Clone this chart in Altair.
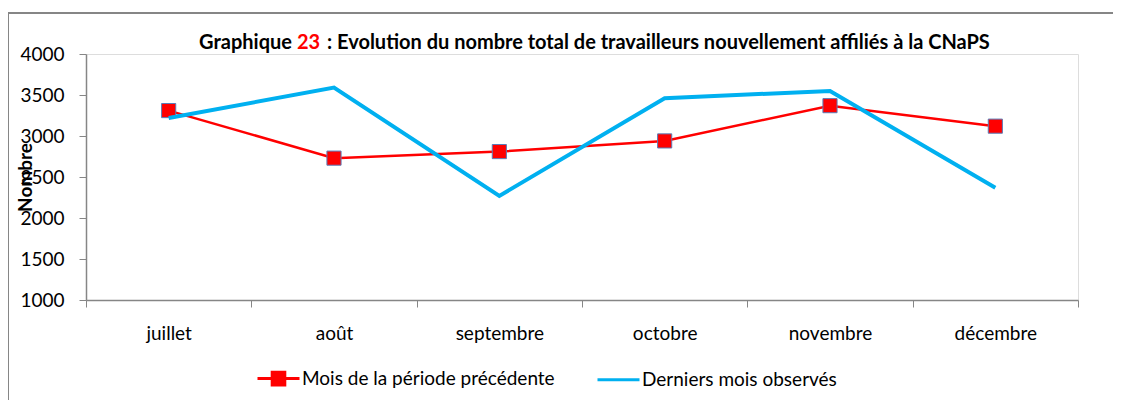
import altair as alt
import pandas as pd

months = ["juillet", "août", "septembre", "octobre", "novembre", "décembre"]
prev_vals = [3310, 2730, 2810, 2940, 3370, 3120]
last_vals = [3220, 3590, 2270, 3460, 3550, 2370]
series_names = ["Mois de la période précédente", "Derniers mois observés"]
y_ticks = [1000, 1500, 2000, 2500, 3000, 3500, 4000]

title_left = "Graphique"
title_num = "23"
title_right = ": Evolution du nombre total de travailleurs nouvellement affiliés à la CNaPS"

rows = []
for m, v in zip(months, prev_vals):
    rows.append({"mois": m, "valeur": v, "serie": series_names[0]})
for m, v in zip(months, last_vals):
    rows.append({"mois": m, "valeur": v, "serie": series_names[1]})
df = pd.DataFrame(rows)

FONT = "Lato"
RED = "#FF0000"
BLUE = "#00B0F0"
GRAY = "#868686"
FS = 19

W, H = 992, 246

x_enc = alt.X("mois:N", sort=months, title=None,
              scale=alt.Scale(domain=months, paddingInner=0, paddingOuter=0),
              axis=alt.Axis(labelAngle=0, tickBand="extent", tickSize=7,
                            domainColor=GRAY, tickColor=GRAY, domainWidth=1.5,
                            labelPadding=17, labelFontSize=FS, labelFont=FONT,
                            labelColor="#000000"))
y_enc = alt.Y("valeur:Q", title="Nombre",
              scale=alt.Scale(domain=[1000, 4000], nice=False, zero=False),
              axis=alt.Axis(values=y_ticks, format="d", grid=False, tickSize=7,
                            domainColor=GRAY, tickColor=GRAY, domainWidth=1.5,
                            labelPadding=15, labelFontSize=FS, labelFont=FONT,
                            labelColor="#000000",
                            titleFont=FONT, titleFontSize=FS, titleFontWeight="bold",
                            titleAngle=-90, titleX=-61, titleY=H / 2,
                            titleAlign="center", titleBaseline="middle",
                            titleColor="#000000"))

color_scale = alt.Scale(domain=series_names, range=[RED, BLUE])

base = alt.Chart(df)

red_line = base.transform_filter(alt.datum.serie == series_names[0]).mark_line(
    color=RED, strokeWidth=2.5).encode(x=x_enc, y=y_enc)

red_pts = base.transform_filter(alt.datum.serie == series_names[0]).mark_point(
    shape="square", filled=True, fill=RED, stroke="#5B7DB8", strokeWidth=1,
    size=200, opacity=1).encode(x=x_enc, y=y_enc)

blue_line = base.transform_filter(alt.datum.serie == series_names[1]).mark_line(
    color=BLUE, strokeWidth=4).encode(x=x_enc, y=y_enc)


def make_legend():
    return alt.Legend(title=None, orient="none", legendX=170, legendY=302,
                      direction="horizontal",
                      labelFont=FONT, labelFontSize=FS, labelColor="#000000",
                      symbolSize=1764, symbolStrokeWidth=3, symbolOpacity=1,
                      labelOffset=1, columnPadding=36, labelLimit=400)


legend_layer = base.mark_point(opacity=0, size=10).encode(
    x=x_enc, y=y_enc,
    fill=alt.Fill("serie:N", scale=color_scale, sort=series_names, legend=make_legend()),
    stroke=alt.Stroke("serie:N", scale=color_scale, sort=series_names, legend=make_legend()),
    shape=alt.Shape("serie:N", sort=series_names,
                    scale=alt.Scale(domain=series_names,
                                    range=["M-1,0H-0.3M0.3,0H1M-0.3,-0.3H0.3V0.3H-0.3Z",
                                           "M-1,0H1"]),
                    legend=make_legend()),
)

title_df = pd.DataFrame({"t": [0]})
tbase = alt.Chart(title_df)
TFS = 20
t1 = tbase.mark_text(text=title_left, align="right", baseline="alphabetic", font=FONT,
                     fontSize=TFS, fontWeight="bold", color="#000000").encode(
    x=alt.value(206), y=alt.value(-5))
t2 = tbase.mark_text(text=title_num, align="center", baseline="alphabetic", font=FONT,
                     fontSize=TFS, fontWeight="bold", color=RED).encode(
    x=alt.value(222.5), y=alt.value(-5))
t3 = tbase.mark_text(text=title_right, align="left", baseline="alphabetic", font=FONT,
                     fontSize=TFS, fontWeight="bold", color="#000000").encode(
    x=alt.value(241), y=alt.value(-5))

border = tbase.mark_rect(fill=None, stroke=GRAY, strokeWidth=2, clip=False).encode(
    x=alt.value(-78), y=alt.value(-41), x2=alt.value(W + 60), y2=alt.value(H + 120))

chart = alt.layer(border, legend_layer, red_line, red_pts, blue_line, t1, t2, t3).properties(
    width=W, height=H,
    autosize=alt.AutoSizeParams(type="none"),
    padding={"left": 78, "top": 46, "right": 35, "bottom": 100},
).configure_view(stroke=None).configure(background="white")

chart.save("out.html", embed_options={"renderer": "svg", "actions": False})
